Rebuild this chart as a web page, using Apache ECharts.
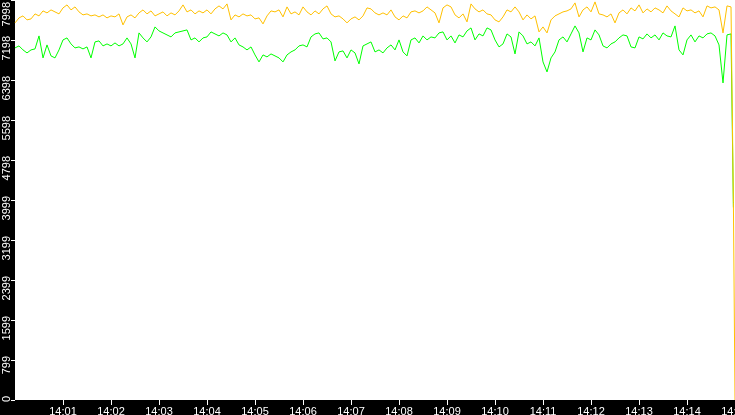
<!DOCTYPE html>
<html>
<head>
<meta charset="utf-8">
<script src="https://cdn.jsdelivr.net/npm/echarts@6/dist/echarts.min.js"></script>
<style>
html, body { margin: 0; padding: 0; background: #000; }
#main { width: 735px; height: 415px; }
</style>
</head>
<body>
<div id="main"></div>
<script>
// one sample every 5 s from 14:00:00, x in minutes after 14:00
var stepMin = 5 / 60;

var yellowVals = [
    7540, 7640, 7680, 7600, 7620, 7720, 7680, 7780, 7740, 7800,
    7760, 7720, 7840, 7900, 7800, 7860, 7760, 7700, 7720, 7680,
    7700, 7660, 7700, 7640, 7680, 7660, 7720, 7500, 7660, 7700,
    7640, 7740, 7800, 7720, 7780, 7680, 7720, 7760, 7680, 7740,
    7700, 7780, 7900, 7760, 7800, 7720, 7780, 7740, 7800, 7720,
    7820, 7880, 7820, 7920, 7600, 7700, 7660, 7720, 7680, 7700,
    7620, 7640, 7520, 7680, 7780, 7760, 7800, 7660, 7860, 7720,
    7760, 7700, 7860, 7760, 7700, 7780, 7720, 7820, 7880, 7720,
    7660, 7680, 7620, 7540, 7620, 7660, 7600, 7680, 7840, 7820,
    7740, 7700, 7740, 7700, 7800, 7660, 7600, 7680, 7640, 7760,
    7780, 7740, 7780, 7860, 7800, 7740, 7540, 7840, 7900, 7860,
    7700, 7640, 7720, 7560, 7920, 7820, 7760, 7800, 7720, 7700,
    7600, 7560, 7660, 7800, 7760, 7860, 7760, 7600, 7700, 7620,
    7680, 7360, 7460, 7340, 7600, 7680, 7720, 7760, 7780, 7820,
    7940, 7660, 7800, 7860, 7760, 7960, 7720, 7700, 7660, 7720,
    7540, 7740, 7800, 7720, 7840, 7780, 7900, 7740, 7820, 7760,
    7840, 7800, 7740, 7880, 7780, 7720, 7660, 7840, 7780, 7800,
    7740, 7780, 7660, 7880, 7840, 7860, 7800, 7340, 7880, 7860
];

var greenVals = [
    7040, 7080, 7000, 6940, 7000, 7020, 7280, 6840, 7100, 6880,
    6840, 7000, 7200, 7240, 7120, 7040, 7060, 7020, 7060, 6840,
    7160, 7180, 7080, 7120, 7080, 7140, 7080, 7120, 7240, 7120,
    6840, 7340, 7240, 7160, 7260, 7460, 7380, 7340, 7300, 7260,
    7340, 7360, 7380, 7400, 7200, 7240, 7160, 7240, 7260, 7360,
    7320, 7280, 7340, 7300, 7160, 7240, 7100, 7060, 7000, 7060,
    6900, 6760, 6900, 6860, 6920, 6880, 6840, 6760, 6900, 6960,
    7000, 7080, 7100, 7060, 7260, 7320, 7340, 7220, 7240, 7160,
    6780, 6960, 6980, 6840, 7000, 6940, 6720, 7080, 7120, 7160,
    6960, 7000, 6940, 7040, 7100, 7000, 7200, 6960, 6880, 7200,
    7240, 7140, 7280, 7200, 7260, 7240, 7340, 7360, 7200, 7280,
    7140, 7300, 7260, 7380, 7440, 7200, 7320, 7280, 7440, 7400,
    7200, 7060, 7120, 7320, 7260, 6920, 7360, 7280, 7120, 7160,
    7080, 7240, 6760, 6560, 6840, 6960, 7200, 7260, 7160, 7320,
    7480, 7340, 6960, 7240, 7200, 7400, 7300, 7080, 7040, 7120,
    7160, 7240, 7300, 7280, 7060, 7040, 7260, 7220, 7320, 7240,
    7300, 7200, 7340, 7280, 7260, 7480, 7000, 6900, 7200, 7300,
    7160, 7280, 7240, 7320, 7340, 7280, 7100, 6340, 7300, 7320
];

// last few seconds, when the feed drops out
var tailMin = [58 / 60 + 14, 15];
var yellowTail = [3950, 0];
var greenTail = [3850, null];

var yMax = 7998;

function pairs(vals, tailVals) {
    var out = [];
    for (var i = 0; i < vals.length; i++) {
        out.push([i * stepMin, vals[i]]);
    }
    for (var j = 0; j < tailVals.length; j++) {
        if (tailVals[j] != null) out.push([tailMin[j], tailVals[j]]);
    }
    return out;
}

var myChart = echarts.init(document.getElementById('main'));

var option = {
    animation: false,
    backgroundColor: '#000',
    grid: {
        left: 15, right: 0, top: 0, bottom: 15,
        outerBoundsMode: 'none',
        containLabel: false,
        show: true, backgroundColor: '#fff', borderWidth: 0
    },
    xAxis: {
        type: 'value',
        min: 0,
        max: 15,
        interval: 1,
        axisLine: {show: false},
        axisTick: {show: true, length: 5, lineStyle: {color: '#fff', width: 1}},
        splitLine: {show: false},
        axisLabel: {
            color: '#fff',
            fontFamily: 'Liberation Sans',
            fontSize: 11,
            margin: 6,
            showMinLabel: false,
            hideOverlap: false,
            formatter: function (v) {
                return '14:' + (v < 10 ? '0' : '') + v;
            }
        }
    },
    yAxis: {
        type: 'value',
        min: 0,
        max: yMax,
        interval: 799.8,
        axisLine: {show: false},
        axisTick: {show: true, length: 4, lineStyle: {color: '#fff', width: 1}},
        splitLine: {show: false},
        axisLabel: {
            color: '#fff',
            fontFamily: 'Liberation Sans',
            fontSize: 11,
            margin: 3,
            rotate: 90,
            align: 'right',
            verticalAlign: 'bottom',
            padding: [0, -4, 0, 0],
            rich: {
                top: {
                    color: '#fff',
                    fontFamily: 'Liberation Sans',
                    fontSize: 11,
                    padding: [0, 6, 0, 0]
                }
            },
            formatter: function (v) {
                var s = String(Math.floor(v + 1e-6));
                // the top label is pushed down so it stays on screen
                if (v >= yMax - 1) return '{top|' + s + '}';
                return s;
            }
        }
    },
    series: [
        {
            name: 'green',
            type: 'line',
            data: pairs(greenVals, greenTail),
            showSymbol: false,
            lineStyle: {color: '#00ff00', width: 1}
        },
        {
            name: 'yellow',
            type: 'line',
            data: pairs(yellowVals, yellowTail),
            showSymbol: false,
            lineStyle: {color: '#ffc000', width: 1}
        }
    ]
};

myChart.setOption(option);
</script>
</body>
</html>
